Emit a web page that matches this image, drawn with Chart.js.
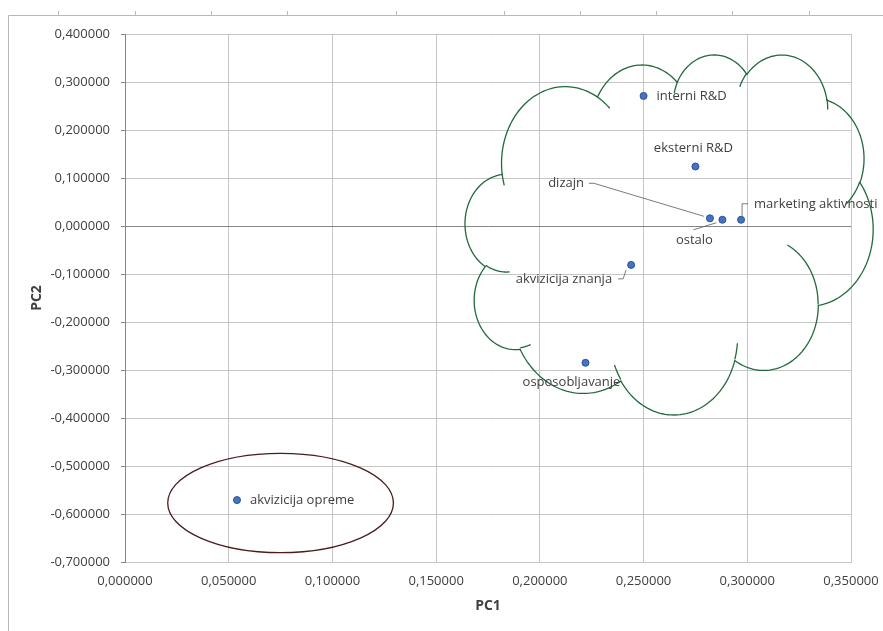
<!DOCTYPE html>
<html>
<head>
<meta charset="utf-8">
<script src="https://cdn.jsdelivr.net/npm/chart.js@4"></script>
<style>
  html, body { margin: 0; padding: 0; background: #fff; }
  #wrap { width: 883px; height: 631px; position: relative; }
</style>
</head>
<body>
<div id="wrap"><canvas id="pcaChart"></canvas></div>
<script>
// PCA loadings
const activityNames = ["interni R&D", "eksterni R&D", "dizajn", "ostalo", "marketing aktivnosti", "akvizicija znanja", "osposobljavanje", "akvizicija opreme"];
const pc1Values = [0.250, 0.275, 0.282, 0.288, 0.297, 0.244, 0.222, 0.054];
const pc2Values = [0.271, 0.124, 0.016, 0.013, 0.013, -0.081, -0.285, -0.571];
const pc1Ticks = [0, 0.05, 0.1, 0.15, 0.2, 0.25, 0.3, 0.35];
const pc2Ticks = [-0.7, -0.6, -0.5, -0.4, -0.3, -0.2, -0.1, 0, 0.1, 0.2, 0.3, 0.4];

// label placement (pixel offsets from the point), kept apart from the data
const labelPlacement = [
  { dx: 13, dy: 0, align: "left" },
  { dx: -2, dy: -18, align: "center" },
  { dx: -126, dy: -35, align: "right", leader: [[-121, -35], [-116, -35], [-6, -2]] },
  { dx: -28, dy: 21, align: "center", leader: [[-29, 10], [-6, 3]] },
  { dx: 13, dy: -15, align: "left", leader: [[1, -4], [1, -16], [7, -16]] },
  { dx: -19, dy: 14, align: "right", leader: [[-13, 14], [-8, 14], [-5, 5]] },
  { dx: -14, dy: 19, align: "center" },
  { dx: 13, dy: 0, align: "left" },
];

// hand-drawn shapes, in data units
const cloudBox = { xMin: 0.1639, xMax: 0.3607, yMin: -0.3938, yMax: 0.3563 };
const ovalBox = { cx: 0.075, cy: -0.577, rx: 0.0544, ry: 0.1035 };

const colors = {
  text: "#404040",
  grid: "#c6c6c6",
  axis: "#868686",
  dot: "#4472c4",
  dotEdge: "#2f528f",
  cloud: "#22693b",
  oval: "#4a1c1c",
  frame: "#b8b8b8",
};
const FONT = "'Open Sans', sans-serif";

const fmt = (v) => (Math.abs(v) < 1e-9 ? 0 : v).toFixed(6).replace(".", ",");

/* ---- Excel "cloud" preset geometry (43200 x 43200 path units) ---- */
const cloudStart = [3900, 14370];
const cloudArcs = [
  [6753, 9190, -11429249, 7426832],
  [5333, 7267, -8646143, 5396714],
  [4365, 5945, -8748475, 5983381],
  [4857, 6595, -7859164, 7034504],
  [5333, 7273, -4722533, 6541615],
  [6775, 9220, -2776035, 7816140],
  [5785, 7867, 37501, 6842000],
  [6752, 9215, 1347096, 6910353],
  [7720, 10543, 3974558, 4542661],
  [4360, 5918, -16496525, 8804134],
  [4345, 5945, -14809710, 9151131],
];
const cloudTails = [
  [4693, 26177, 4345, 5945, 5204520, 1585770],
  [6928, 34899, 4360, 5918, 4416628, 686848],
  [16478, 39090, 6752, 9215, 8257449, 844866],
  [28827, 34751, 6752, 9215, 387196, 959901],
  [34129, 22954, 5785, 7867, -4217541, 4255042],
  [41798, 15354, 5333, 7273, 1819082, 1665090],
  [38324, 5426, 4857, 6595, -824660, 891534],
  [29078, 3952, 4857, 6595, -8950887, 1091722],
  [22141, 4720, 4365, 5945, -9809656, 1061181],
  [14000, 5192, 6753, 9190, -4002417, 739161],
  [4127, 15789, 6753, 9190, 9459261, 711490],
];

function arcTo(pts, x, y, wR, hR, st, sw) {
  const a0 = (st / 60000) * Math.PI / 180;
  const a1 = ((st + sw) / 60000) * Math.PI / 180;
  const t0 = Math.atan2(wR * Math.sin(a0), hR * Math.cos(a0));
  const t1 = Math.atan2(wR * Math.sin(a1), hR * Math.cos(a1));
  let dt = t1 - t0;
  if (sw > 0 && dt < 0) dt += 2 * Math.PI;
  if (sw < 0 && dt > 0) dt -= 2 * Math.PI;
  const cx = x - wR * Math.cos(t0);
  const cy = y - hR * Math.sin(t0);
  for (let i = 1; i <= 48; i++) {
    const t = t0 + (dt * i) / 48;
    pts.push([cx + wR * Math.cos(t), cy + hR * Math.sin(t)]);
  }
  return pts[pts.length - 1];
}

function buildCloud() {
  const outline = [cloudStart.slice()];
  let cur = cloudStart;
  cloudArcs.forEach((a) => { cur = arcTo(outline, cur[0], cur[1], a[0], a[1], a[2], a[3]); });
  outline.push(cloudStart.slice());
  const tails = cloudTails.map((t) => {
    const p = [[t[0], t[1]]];
    arcTo(p, t[0], t[1], t[2], t[3], t[4], t[5]);
    return p;
  });
  return { outline, tails };
}
const cloudGeom = buildCloud();

const shapesPlugin = {
  id: "shapes",
  beforeDraw(chart) {
    const { ctx, width, height } = chart;
    ctx.save();
    ctx.fillStyle = "#fff";
    ctx.fillRect(0, 0, width, height);
    // leftover frame of the neighbouring sheet object
    ctx.strokeStyle = colors.frame;
    ctx.lineWidth = 1;
    ctx.beginPath();
    ctx.moveTo(8.5, height);
    ctx.lineTo(8.5, 15.5);
    ctx.lineTo(width, 15.5);
    [58, 135, 211, 287, 396, 504, 580, 656, 732, 809].forEach((x) => {
      ctx.moveTo(x + 0.5, 15.5);
      ctx.lineTo(x + 0.5, 11);
    });
    ctx.stroke();
    ctx.restore();
  },
  beforeDatasetsDraw(chart) {
    const { ctx, scales: { x, y } } = chart;
    ctx.save();

    // cloud around the main group
    const px0 = x.getPixelForValue(cloudBox.xMin), px1 = x.getPixelForValue(cloudBox.xMax);
    const py0 = y.getPixelForValue(cloudBox.yMax), py1 = y.getPixelForValue(cloudBox.yMin);
    let minX = Infinity, maxX = -Infinity, minY = Infinity, maxY = -Infinity;
    cloudGeom.outline.forEach(([sx, sy]) => {
      minX = Math.min(minX, sx); maxX = Math.max(maxX, sx);
      minY = Math.min(minY, sy); maxY = Math.max(maxY, sy);
    });
    const mx = (sx) => px0 + ((sx - minX) / (maxX - minX)) * (px1 - px0);
    const my = (sy) => py0 + ((sy - minY) / (maxY - minY)) * (py1 - py0);
    ctx.strokeStyle = colors.cloud;
    ctx.lineWidth = 1.3;
    [cloudGeom.outline, ...cloudGeom.tails].forEach((pts) => {
      ctx.beginPath();
      pts.forEach(([sx, sy], i) => (i ? ctx.lineTo(mx(sx), my(sy)) : ctx.moveTo(mx(sx), my(sy))));
      ctx.stroke();
    });

    // oval around the outlier
    const cx = x.getPixelForValue(ovalBox.cx), cy = y.getPixelForValue(ovalBox.cy);
    const rx = x.getPixelForValue(ovalBox.cx + ovalBox.rx) - cx;
    const ry = cy - y.getPixelForValue(ovalBox.cy + ovalBox.ry);
    ctx.strokeStyle = colors.oval;
    ctx.lineWidth = 1.3;
    ctx.beginPath();
    ctx.ellipse(cx, cy, rx, ry, 0, 0, Math.PI * 2);
    ctx.stroke();
    ctx.restore();
  },
  afterDatasetsDraw(chart) {
    const { ctx } = chart;
    const meta = chart.getDatasetMeta(0);
    ctx.save();
    ctx.font = "13px " + FONT;
    ctx.fillStyle = colors.text;
    ctx.textBaseline = "middle";
    ctx.strokeStyle = "#595959";
    ctx.lineWidth = 0.8;
    meta.data.forEach((pt, i) => {
      const p = labelPlacement[i];
      if (p.leader) {
        ctx.beginPath();
        p.leader.forEach(([lx, ly], k) => (k ? ctx.lineTo(pt.x + lx, pt.y + ly) : ctx.moveTo(pt.x + lx, pt.y + ly)));
        ctx.stroke();
      }
      ctx.textAlign = p.align;
      ctx.fillText(activityNames[i], pt.x + p.dx, pt.y + p.dy);
    });
    ctx.restore();
  },
};

const ctxPca = document.getElementById("pcaChart").getContext("2d");
new Chart(ctxPca, {
  type: "scatter",
  data: {
    labels: activityNames,
    datasets: [
      {
        data: pc1Values.map((v, i) => ({ x: v, y: pc2Values[i] })),
        pointRadius: 3.5,
        pointBackgroundColor: colors.dot,
        pointBorderColor: colors.dotEdge,
        pointBorderWidth: 1,
      },
    ],
  },
  options: {
    responsive: true,
    maintainAspectRatio: false,
    animation: false,
    layout: { padding: { left: 0, right: 32, top: 34, bottom: 0 } },
    plugins: {
      legend: { display: false },
      tooltip: { enabled: false },
    },
    scales: {
      x: {
        type: "linear",
        min: 0,
        max: 0.35,
        afterBuildTicks: (s) => { s.ticks = pc1Ticks.map((v) => ({ value: v })); },
        afterFit: (s) => {
          s.height = 69;
          s.paddingLeft = 0;
          s.paddingRight = 0;
        },
        grid: { color: colors.grid, drawTicks: false },
        border: { color: colors.grid },
        ticks: {
          padding: 11,
          color: colors.text,
          font: { family: FONT, size: 13 },
          maxRotation: 0,
          autoSkip: false,
          callback: (v) => fmt(v),
        },
        title: {
          display: true,
          text: "PC1",
          color: colors.text,
          font: { family: FONT, size: 14, weight: "bold" },
          padding: { top: 0, bottom: 17 },
        },
      },
      y: {
        type: "linear",
        min: -0.7,
        max: 0.4,
        afterBuildTicks: (s) => { s.ticks = pc2Ticks.map((v) => ({ value: v })); },
        afterFit: (s) => {
          s.width = 125;
          s.paddingTop = 0;
          s.paddingBottom = 0;
        },
        grid: {
          color: (c) => (c.tick && Math.abs(c.tick.value) < 1e-9 ? colors.axis : colors.grid),
          tickColor: colors.axis,
          tickLength: 4,
        },
        border: { color: colors.axis },
        ticks: {
          padding: 11,
          color: colors.text,
          font: { family: FONT, size: 13 },
          autoSkip: false,
          callback: (v) => fmt(v),
        },
        title: {
          display: true,
          text: "PC2",
          color: colors.text,
          font: { family: FONT, size: 14, weight: "bold" },
          padding: { top: 29, bottom: 0 },
        },
      },
    },
  },
  plugins: [shapesPlugin],
});
</script>
</body>
</html>
